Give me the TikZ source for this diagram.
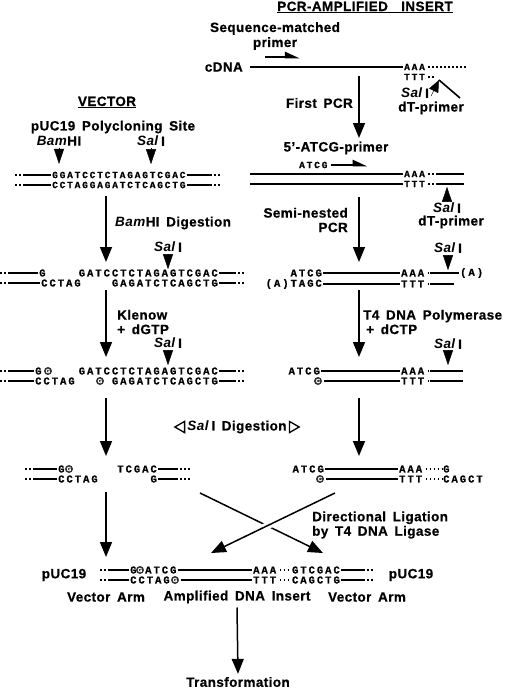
\documentclass[tikz,border=0pt]{standalone}
\usepackage{fontspec}
\setmainfont{Liberation Sans}[LetterSpace=3,WordSpace=1.6,BoldFeatures={FakeBold=0.6}]
\newfontfamily\seqfont{Liberation Mono}[LetterSpace=19,BoldFeatures={FakeBold=0.8}]
\usetikzlibrary{arrows.meta,positioning,shapes.geometric}

\newcommand{\Sal}{\textit{Sal}\,I}
\newcommand{\Bam}{\textit{Bam}HI}

\tikzset{
  lbl/.style={font=\bfseries\fontsize{13.5}{14.5}\selectfont, inner sep=0pt},
  seq/.style={font=\seqfont\bfseries\fontsize{10.5}{10.5}\selectfont, inner xsep=1pt, inner ysep=0pt},
  seqs/.style={seq, font=\seqfont\bfseries\fontsize{9.5}{9.5}\selectfont},
  added/.style={circle, fill=black!80, inner sep=0pt, minimum size=8pt,
    text=white, font=\bfseries\fontsize{6}{6}\selectfont},
  strand/.style={line width=1.6pt},
  gap/.style={line width=1.7pt, dash pattern=on 1.7pt off 2.3pt, dash phase=1.7pt},
  flow/.style={line width=1.5pt, -{Triangle[length=15pt,width=12pt]}},
  cutmark/.style={-{Triangle[length=15pt,width=10pt]}},
  primer/.style={line width=2.6pt, -{Triangle[harpoon,length=12pt,width=10pt]}},
  opentri/.style={regular polygon, regular polygon sides=3, draw, line width=1.3pt,
    inner sep=0pt, minimum size=13pt},
}

\begin{document}
\begin{tikzpicture}[x=1pt,y=-1pt]
\useasboundingbox (0,0) rectangle (506,689);

% PCR-amplified insert
\node[lbl, anchor=base] (ttlins) at (365,11) {\underline{PCR-AMPLIFIED\ \ INSERT}};
\node[lbl, align=center, font=\bfseries\fontsize{13.5}{15}\selectfont] (smp) at (275,36) {Sequence-matched\\primer};
\draw[primer] (265,57) -- (300,57);

\node[lbl, anchor=east] (cdna) at (243,67) {cDNA};
\node[seqs, anchor=west] (aaa0) at (403,67) {AAA};
\node[seqs, anchor=west] (ttt0) at (403,77) {TTT};
\coordinate (dtj) at (439,80);
\draw[strand] ([xshift=7pt]cdna.east) -- (aaa0.west);
\draw[gap] (aaa0.east) -- ++(40,0);
\draw[gap] (ttt0.east) -- ++(10,0);
\draw[strand] (dtj) -- ++(21,18);
\node[lbl] (sal0) at (415,93) {\Sal};
\draw[-{Triangle[length=12pt,width=10pt]}] ([xshift=2pt,yshift=-3pt]sal0.east) -- (dtj);
\node[lbl] (dt0) at (431,108) {dT-primer};

\node[lbl, anchor=east] (fpcr) at (353,103) {First PCR};
\node[lbl] (pr5) at (336,148) {5'-ATCG-primer};
\node[seqs, anchor=west] (atcg0) at (298,165) {ATCG};
\draw[primer] ([xshift=2pt]atcg0.east) -- ++(37,0);

\node[seqs, anchor=west] (ia1) at (403,174) {AAA};
\node[seqs, anchor=west] (ia2) at (403,184) {TTT};
\draw[strand] (ia1.west) -- ++(-153,0);
\draw[strand] (ia2.west) -- ++(-153,0);
\draw[gap] (ia1.east) -- ++(12,0) edge[solid] ++(26,0);
\draw[gap] (ia2.east) -- ++(12,0) edge[solid] ++(26,0);
\node[lbl] (sal1) at (447,208) {\Sal};
\draw[cutmark] ([yshift=2pt]sal1.north) -- ++(0,-14);
\node[lbl] (dt1) at (451,222) {dT-primer};

\node[lbl, anchor=east, align=right] (snp) at (348,220) {Semi-nested\\PCR};
\node[lbl] (sal2r) at (448,248) {\Sal};
\draw[cutmark] ([yshift=-2pt]sal2r.south) -- ++(0,15);

\node[seq, anchor=east] (ib1) at (323,273) {ATCG};
\node[seq, anchor=west] (ib1a) at (400,273) {AAA};
\node[seq, anchor=west] (ib1t) at (459,273) {(A)};
\draw[strand] (ib1.east) -- (ib1a.west);
\draw[gap] (ib1a.east) -- ++(5,0) edge[solid] (ib1t.west);
\node[seq, anchor=east] (ib2) at (323,284) {(A)TAGC};
\node[seq, anchor=west] (ib2a) at (400,284) {TTT};
\draw[strand] (ib2.east) -- (ib2a.west);
\draw[gap] (ib2a.east) -- ++(5,0) edge[solid] ++(24,0);

\node[lbl, anchor=west, align=left] (t4p) at (363,322) {T4 DNA Polymerase\\\hspace{3pt}+ dCTP};
\node[lbl] (sal3r) at (448,344) {\Sal};
\draw[cutmark] ([yshift=-2pt]sal3r.south) -- ++(0,14);

\node[seq, anchor=east] (ic1) at (321,371) {ATCG};
\node[seq, anchor=west] (ic1a) at (400,371) {AAA};
\draw[strand] (ic1.east) -- (ic1a.west);
\draw[gap] (ic1a.east) -- ++(5,0) edge[solid] ++(33,0);
\node[added] (ic2c) at (318,381) {C};
\node[seq, anchor=west] (ic2a) at (400,381) {TTT};
\draw[strand] ([xshift=2pt]ic2c.east) -- (ic2a.west);
\draw[gap] (ic2a.east) -- ++(5,0) edge[solid] ++(33,0);

\node[seq, anchor=east] (id1) at (325,469) {ATCG};
\node[seq, anchor=west] (id1a) at (398,469) {AAA};
\node[seq, anchor=west] (id1g) at (442,469) {G};
\draw[strand] (id1.east) -- (id1a.west);
\draw[gap] (id1a.east) -- (id1g.west);
\node[added] (id2c) at (320,479) {C};
\node[seq, anchor=west] (id2a) at (398,479) {TTT};
\node[seq, anchor=west] (id2g) at (442,479) {CAGCT};
\draw[strand] ([xshift=2pt]id2c.east) -- (id2a.west);
\draw[gap] (id2a.east) -- (id2g.west);

% vector
\node[lbl, anchor=base] (ttlvec) at (107,106) {\underline{VECTOR}};
\node[lbl] (puc) at (113,127) {pUC19 Polycloning Site};
\node[lbl] (bam0) at (59,141) {\Bam};
\node[lbl] (sal0v) at (151,141) {\Sal};
\draw[cutmark] ([yshift=-2pt]bam0.south) -- ++(0,16);
\draw[cutmark] ([yshift=-2pt]sal0v.south) -- ++(0,16);

\node[seqs, anchor=west] (va1) at (51,175) {GGATCCTCTAGAGTCGAC};
\node[seqs, anchor=west] (va2) at (51,185) {CCTAGGAGATCTCAGCTG};
\draw[strand] (va1.west) -- ++(-28,0) edge[gap] ++(-8,0);
\draw[strand] (va2.west) -- ++(-28,0) edge[gap] ++(-8,0);
\draw[strand] (va1.east) -- ++(25,0) edge[gap] ++(9,0);
\draw[strand] (va2.east) -- ++(25,0) edge[gap] ++(9,0);

\node[lbl, anchor=west] (bdig) at (115,223) {\Bam\ Digestion};
\node[lbl] (sal2v) at (168,247) {\Sal};
\draw[cutmark] ([yshift=-2pt]sal2v.south) -- ++(0,15);

\node[seq, anchor=west] (vb1g) at (38,273) {G};
\node[seq, anchor=east] (vb1) at (219,273) {GATCCTCTAGAGTCGAC};
\node[seq, anchor=west] (vb2g) at (40,283) {CCTAG};
\node[seq, anchor=east] (vb2) at (219,283) {GAGATCTCAGCTG};
\draw[strand] (vb1g.west) -- ++(-30,0) edge[gap] ++(-8,0);
\draw[strand] (vb2g.west) -- ++(-32,0) edge[gap] ++(-8,0);
\draw[strand] (vb1.east) -- ++(17,0) edge[gap] ++(9,0);
\draw[strand] (vb2.east) -- ++(17,0) edge[gap] ++(9,0);

\node[lbl, anchor=west, align=left] (kln) at (117,322) {Klenow\\+ dGTP};
\node[lbl] (sal3v) at (168,343) {\Sal};
\draw[cutmark] ([yshift=-2pt]sal3v.south) -- ++(0,15);

\node[seq, anchor=west] (vc1g) at (34,371) {G};
\node[added] (vc1c) at (48,371) {G};
\node[seq, anchor=east] (vc1) at (219,371) {GATCCTCTAGAGTCGAC};
\node[seq, anchor=west] (vc2g) at (34,381) {CCTAG};
\node[added] (vc2c) at (100,381) {G};
\node[seq, anchor=east] (vc2) at (219,381) {GAGATCTCAGCTG};
\draw[strand] (vc1g.west) -- ++(-26,0) edge[gap] ++(-8,0);
\draw[strand] (vc2g.west) -- ++(-26,0) edge[gap] ++(-8,0);
\draw[strand] (vc1.east) -- ++(17,0) edge[gap] ++(9,0);
\draw[strand] (vc2.east) -- ++(17,0) edge[gap] ++(9,0);

\node[lbl] (saldig) at (237,427) {\Sal\ Digestion};
\node[opentri, shape border rotate=90, left=2pt of saldig] (dl) {};
\node[opentri, shape border rotate=-90, right=2pt of saldig] (dr) {};

\node[seq, anchor=west] (vd1g) at (57,469) {G};
\node[added] (vd1c) at (69,469) {G};
\node[seq, anchor=east] (vd1) at (158,469) {TCGAC};
\node[seq, anchor=west] (vd2g) at (57,479) {CCTAG};
\node[seq, anchor=east] (vd2) at (158,479) {G};
\draw[strand] (vd1g.west) -- ++(-24,0) edge[gap] ++(-10,0);
\draw[strand] (vd2g.west) -- ++(-24,0) edge[gap] ++(-10,0);
\draw[strand] (vd1.east) -- ++(20,0) edge[gap] ++(14,0);
\draw[strand] (vd2.east) -- ++(20,0) edge[gap] ++(14,0);

% ligation
\node[lbl, anchor=west, align=left] (lig) at (312,525) {Directional Ligation\\by T4 DNA Ligase};

\node[lbl] (pucl) at (64,575) {pUC19};
\node[lbl] (pucr) at (411,575) {pUC19};
\node[seq, anchor=west] (fa1g) at (129,570) {G};
\node[added] (fa1c) at (140,570) {G};
\node[seq, anchor=west] (fa1) at (144,570) {ATCG};
\node[seq, anchor=west] (fa1a) at (252,570) {AAA};
\node[seq, anchor=east] (fa1r) at (341,570) {GTCGAC};
\draw[strand] (fa1g.west) -- ++(-21,0) edge[gap] ++(-10,0);
\draw[strand] (fa1.east) -- (fa1a.west);
\draw[gap] (fa1a.east) -- (fa1r.west);
\draw[strand] (fa1r.east) -- ++(24,0) edge[gap] ++(10,0);
\node[seq, anchor=west] (fa2g) at (129,580) {CCTAG};
\node[added] (fa2c) at (175,580) {G};
\node[seq, anchor=west] (fa2a) at (252,580) {TTT};
\node[seq, anchor=east] (fa2r) at (341,580) {CAGCTG};
\draw[strand] (fa2g.west) -- ++(-21,0) edge[gap] ++(-10,0);
\draw[strand] ([xshift=2pt]fa2c.east) -- (fa2a.west);
\draw[gap] (fa2a.east) -- (fa2r.west);
\draw[strand] (fa2r.east) -- ++(24,0) edge[gap] ++(10,0);

\node[lbl] (arml) at (106,597) {Vector Arm};
\node[lbl] (adi) at (237,597) {Amplified DNA Insert};
\node[lbl] (armr) at (367,597) {Vector Arm};
\node[lbl] (trf) at (238,682) {Transformation};

% steps
\coordinate (l1a) at (106,196); \coordinate (l1b) at (106,262);
\coordinate (l2a) at (106,290); \coordinate (l2b) at (106,357);
\coordinate (l3a) at (106,398); \coordinate (l3b) at (106,456);
\coordinate (l4a) at (106,492); \coordinate (l4b) at (106,557);
\coordinate (r0a) at (359,76);  \coordinate (r0b) at (359,138);
\coordinate (r1a) at (359,197); \coordinate (r1b) at (359,262);
\coordinate (r2a) at (359,290); \coordinate (r2b) at (359,357);
\coordinate (r3a) at (359,398); \coordinate (r3b) at (359,456);
\path[flow]
  (l1a) edge (l1b) (l2a) edge (l2b) (l3a) edge (l3b) (l4a) edge (l4b)
  (r0a) edge (r0b) (r1a) edge (r1b) (r2a) edge (r2b) (r3a) edge (r3b);
\draw[flow] ([yshift=-4pt]adi.south) -- ([yshift=3pt]trf.north);

\coordinate (xva) at (200,493); \coordinate (xvb) at (323,553);
\coordinate (xia) at (335,493); \coordinate (xib) at (211,553);
\draw[flow] (xva) -- (xvb);
\draw[flow, preaction={draw=white, line width=7pt, arrows=-}] (xia) -- (xib);
\end{tikzpicture}
\end{document}
